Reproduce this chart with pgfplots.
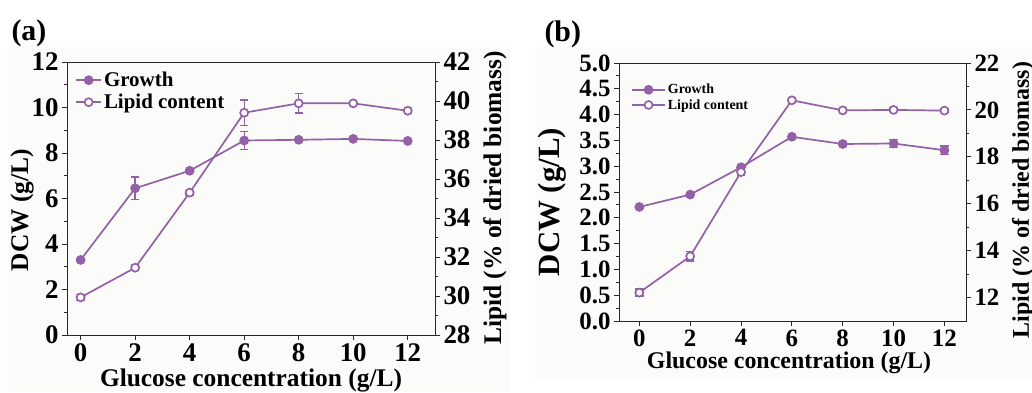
\documentclass[border=0pt]{standalone}
\usepackage{fontspec}
\setmainfont{Liberation Serif}
\usepackage{pgfplots}
\usepackage{pgfplotstable}
\pgfplotsset{compat=1.18}
\definecolor{pur}{RGB}{148,96,166}
\definecolor{axc}{RGB}{40,40,40}
\definecolor{bgc}{RGB}{251,251,250}

\pgfplotstableread{
x y e
0 3.30 0.05
2 6.45 0.50
4 7.22 0.06
6 8.55 0.40
8 8.58 0.05
10 8.62 0.06
12 8.53 0.06
}\growthA
\pgfplotstableread{
x y e
0 29.93 0.15
2 31.45 0.15
4 35.30 0.12
6 39.40 0.65
8 39.88 0.50
10 39.88 0.10
12 39.50 0.15
}\lipidA
\pgfplotstableread{
x y e
0 2.21 0.03
2 2.45 0.03
4 2.98 0.03
6 3.57 0.04
8 3.43 0.04
10 3.44 0.08
12 3.31 0.08
}\growthB
\pgfplotstableread{
x y e
0 12.21 0.15
2 13.76 0.20
4 17.35 0.15
6 20.41 0.10
8 19.98 0.10
10 20.00 0.08
12 19.97 0.08
}\lipidB

\pgfplotsset{
  base/.style={
    scale only axis,
    tick align=outside,
    major tick length=5bp,
    minor tick length=3bp,
    axis line style={axc, line width=1bp},
    every tick/.style={axc, line width=0.9bp},
    /pgf/number format/assume math mode=true,
    tick label style={text=black},
    label style={text=black},
  },
  ser/.style={pur, line width=1.7bp, mark=*, mark size=4bp},
  eb/.style={error bars/.cd, y dir=both, y explicit,
    error bar style={pur, line width=1.3bp},
    error mark options={pur, rotate=90, mark size=4.2bp, line width=1.3bp}},
}

\begin{document}
\begin{tikzpicture}
\useasboundingbox (0,0) rectangle (1032bp,-393bp);
\fill[bgc] (7bp,-47bp) rectangle (510bp,-392bp);
\fill[bgc] (535bp,-47bp) rectangle (1032bp,-380bp);

\node[anchor=base west, font=\fontsize{30}{30}\selectfont\bfseries] at (8bp,-40bp) {(a)};
\node[anchor=base west, font=\fontsize{30}{30}\selectfont\bfseries] at (541bp,-41bp) {(b)};

% ---------- panel (a) ----------
\begin{axis}[base,
  at={(67bp,-335bp)}, anchor=south west,
  width=368bp, height=273bp,
  xmin=-0.5, xmax=13, ymin=0, ymax=12,
  xtick={0,2,...,12}, ytick={0,2,...,12}, minor ytick={1,3,...,11},
  xtick pos=bottom, ytick pos=left,
  ticklabel style={font=\fontsize{27}{27}\selectfont\bfseries},
  xlabel={Glucose concentration (g/L)},
  ylabel={DCW (g/L)},
  label style={font=\fontsize{25.5}{25.5}\selectfont\bfseries},
  xlabel style={at={(axis description cs:0.5,-0.165)}, anchor=center},
  ylabel style={at={(axis description cs:-0.122,0.458)}, anchor=center},
  legend style={at={(0.014,0.978)}, anchor=north west, draw=none, fill=none,
    font=\fontsize{21}{21}\selectfont\bfseries, row sep=2bp},
  legend cell align=left,
  legend image code/.code={\draw[mark repeat=2, mark phase=2] plot coordinates {(0bp,0bp) (12.5bp,0bp) (25bp,0bp)};},
]
\addplot[ser, mark options={fill=pur}, eb] table[x=x, y=y, y error=e] {\growthA};
\addlegendentry{Growth}
\addlegendimage{ser, mark options={fill=white}}
\addlegendentry{Lipid content}
\end{axis}
\begin{axis}[base,
  at={(67bp,-335bp)}, anchor=south west,
  width=368bp, height=273bp,
  xmin=-0.5, xmax=13, ymin=28, ymax=42,
  axis x line=none, axis y line*=right,
  ytick={28,30,...,42}, minor ytick={29,31,...,41},
  ticklabel style={font=\fontsize{27}{27}\selectfont\bfseries},
  ylabel={Lipid (\% of dried biomass)},
  label style={font=\fontsize{25.5}{25.5}\selectfont\bfseries},
  ylabel style={at={(axis description cs:1.163,0.502)}, anchor=center},
]
\addplot[ser, mark options={fill=white}, eb] table[x=x, y=y, y error=e] {\lipidA};
\end{axis}

% ---------- panel (b) ----------
\begin{axis}[base,
  at={(619bp,-321bp)}, anchor=south west,
  width=347bp, height=258bp,
  xmin=-0.8, xmax=12.85, ymin=0, ymax=5,
  xtick={0,2,...,12}, ytick={0,0.5,...,5}, minor ytick={0.25,0.75,...,4.75},
  xtick pos=bottom, ytick pos=left,
  yticklabel style={/pgf/number format/.cd, fixed, fixed zerofill, precision=1},
  ticklabel style={font=\fontsize{25}{25}\selectfont\bfseries},
  xlabel={Glucose concentration (g/L)},
  ylabel={DCW (g/L)},
  xlabel style={font=\fontsize{24}{24}\selectfont\bfseries, at={(axis description cs:0.49,-0.163)}, anchor=center},
  ylabel style={font=\fontsize{31}{31}\selectfont\bfseries, at={(axis description cs:-0.193,0.461)}, anchor=center},
  legend style={at={(0.026,0.934)}, anchor=north west, draw=none, fill=none,
    font=\fontsize{14}{14}\selectfont\bfseries, row sep=0bp},
  legend cell align=left,
  legend image code/.code={\draw[mark repeat=2, mark phase=2] plot coordinates {(0bp,0bp) (16.5bp,0bp) (33bp,0bp)};},
]
\addplot[ser, mark options={fill=pur}, eb] table[x=x, y=y, y error=e] {\growthB};
\addlegendentry{Growth}
\addlegendimage{ser, mark options={fill=white}}
\addlegendentry{Lipid content}
\end{axis}
\begin{axis}[base,
  at={(619bp,-321bp)}, anchor=south west,
  width=347bp, height=258bp,
  xmin=-0.8, xmax=12.85, ymin=11, ymax=22,
  axis x line=none, axis y line*=right,
  ytick={12,14,...,22}, minor ytick={13,15,...,21},
  ticklabel style={font=\fontsize{25}{25}\selectfont\bfseries},
  ylabel={Lipid (\% of dried biomass)},
  ylabel style={font=\fontsize{24}{24}\selectfont\bfseries, at={(axis description cs:1.164,0.469)}, anchor=center},
]
\addplot[ser, mark options={fill=white}, eb] table[x=x, y=y, y error=e] {\lipidB};
\end{axis}
\end{tikzpicture}
\end{document}
